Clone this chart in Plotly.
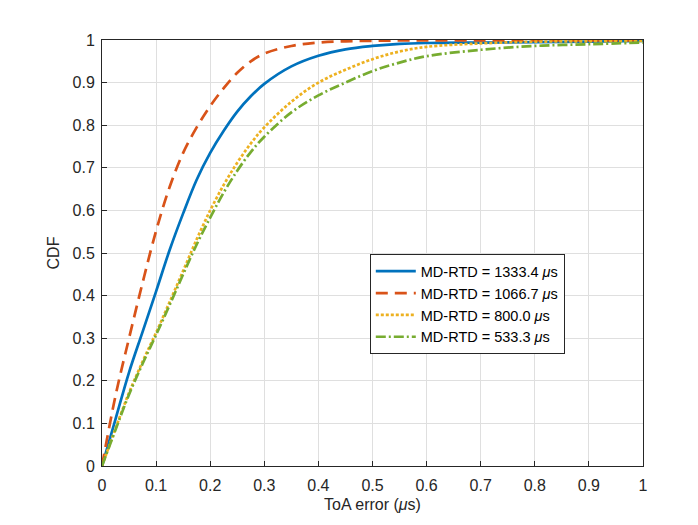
import plotly.graph_objects as go

# ToA error grid (us)
toa_err = [0, 0.025, 0.05, 0.075, 0.1, 0.125, 0.15, 0.175, 0.2, 0.225, 0.25,
           0.275, 0.3, 0.35, 0.4, 0.45, 0.5, 0.55, 0.6, 0.7, 0.8, 0.9, 1.0]

# CDF for each MD-RTD
cdf_1333 = [0, 0.11, 0.22, 0.315, 0.41, 0.507, 0.593, 0.672, 0.735, 0.787, 0.832,
            0.868, 0.897, 0.938, 0.963, 0.978, 0.986, 0.991, 0.993, 0.994, 0.995, 0.996, 0.998]
cdf_1066 = [0, 0.165, 0.30, 0.43, 0.552, 0.655, 0.735, 0.795, 0.845, 0.887, 0.923,
            0.95, 0.968, 0.986, 0.994, 0.997, 0.998, 0.999, 0.999, 0.999, 0.999, 0.999, 0.999]
cdf_800 = [0, 0.088, 0.172, 0.245, 0.313, 0.385, 0.458, 0.532, 0.60, 0.66, 0.712,
           0.757, 0.795, 0.855, 0.900, 0.93, 0.955, 0.973, 0.984, 0.992, 0.996, 0.997, 0.998]
cdf_533 = [0, 0.085, 0.168, 0.24, 0.308, 0.378, 0.45, 0.52, 0.583, 0.642, 0.693,
           0.737, 0.773, 0.83, 0.87, 0.90, 0.927, 0.947, 0.962, 0.977, 0.986, 0.990, 0.994]

labels = ["MD-RTD = 1333.4 <i>μ</i>s", "MD-RTD = 1066.7 <i>μ</i>s",
          "MD-RTD = 800.0 <i>μ</i>s", "MD-RTD = 533.3 <i>μ</i>s"]

series = [
    (cdf_1333, "#0072BD", "solid"),
    (cdf_1066, "#D95319", "12px,7px"),
    (cdf_800, "#EDB120", "3px,2px"),
    (cdf_533, "#77AC30", "10px,3px,2px,3px"),
]

fig = go.Figure()
for (vals, col, dash), name in zip(series, labels):
    fig.add_trace(go.Scatter(x=toa_err, y=vals, mode="lines", name=name,
                             line=dict(color=col, width=2.7, dash=dash, shape="spline",
                                       smoothing=1.0)))

axis_common = dict(
    showline=True, mirror=True, linecolor="#262626", linewidth=1,
    ticks="inside", ticklen=5, tickcolor="#262626",
    showgrid=True, gridcolor="#dfdfdf", gridwidth=1, zeroline=False,
    tickfont=dict(size=16, color="#262626"), automargin=False,
)

fig.update_layout(
    width=698, height=525,
    paper_bgcolor="white", plot_bgcolor="white",
    margin=dict(l=94, r=63, t=32, b=67),
    font=dict(family="Liberation Sans, Arial, sans-serif", size=16, color="#262626"),
    xaxis=dict(range=[0, 1], dtick=0.1, tickformat="~g", ticklabelstandoff=5,
               title=dict(text="ToA error (<i>μ</i>s)", standoff=5, font=dict(size=16)),
               **axis_common),
    yaxis=dict(range=[0, 1], dtick=0.1, tickformat="~g", ticklabelstandoff=3,
               title=dict(text="CDF", standoff=8, font=dict(size=16)),
               **axis_common),
    legend=dict(x=0.495, y=0.497, xanchor="left", yanchor="top",
                bgcolor="white", bordercolor="#262626", borderwidth=1,
                font=dict(size=14.5, color="#000000"), tracegroupgap=0,
                itemwidth=40),
    showlegend=True,
)

fig.write_html("out.html")
